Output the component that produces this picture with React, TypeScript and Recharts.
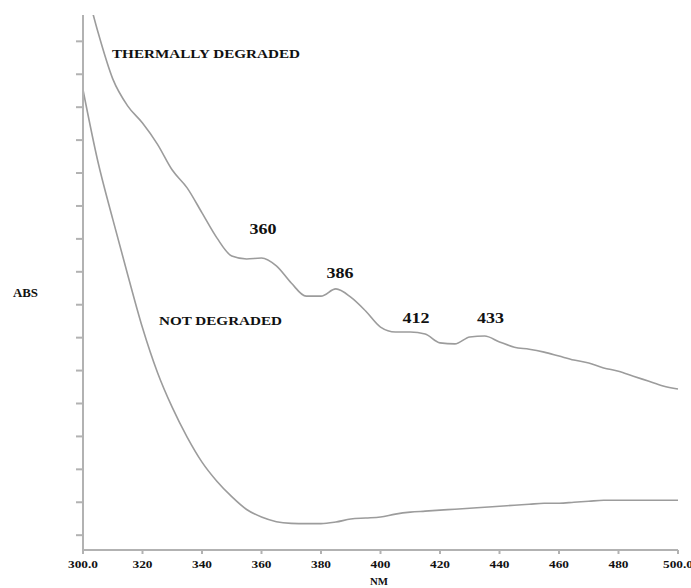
import React from "react";
import { LineChart, Line, XAxis, YAxis, ReferenceDot } from "recharts";

// Wavelength grid (nm)
const wavelengths = [
  300, 305, 310, 315, 320, 325, 330, 335, 340, 345, 350, 355, 360, 365, 370,
  375, 380, 385, 390, 395, 400, 405, 410, 415, 420, 425, 430, 435, 440, 445,
  450, 455, 460, 465, 470, 475, 480, 485, 490, 495, 500,
];

// Absorbance of the thermally degraded sample
const thermallyDegraded = [
  17.02, 15.29, 13.86, 13.04, 12.52, 11.88, 11.09, 10.55, 9.79, 9.03, 8.48,
  8.39, 8.42, 8.18, 7.66, 7.26, 7.26, 7.48, 7.23, 6.81, 6.32, 6.17, 6.17, 6.11,
  5.84, 5.81, 6.02, 6.05, 5.87, 5.71, 5.65, 5.56, 5.44, 5.32, 5.23, 5.08, 4.98,
  4.83, 4.68, 4.53, 4.44,
];

// Absorbance of the untreated sample
const notDegraded = [
  13.53, 11.35, 9.6, 7.92, 6.3, 4.95, 3.88, 2.98, 2.22, 1.64, 1.17, 0.78,
  0.55, 0.41, 0.36, 0.35, 0.35, 0.4, 0.49, 0.52, 0.55, 0.64, 0.7, 0.73, 0.76,
  0.79, 0.82, 0.85, 0.88, 0.91, 0.94, 0.97, 0.97, 1.0, 1.03, 1.06, 1.06, 1.06,
  1.06, 1.06, 1.06,
];

const xTicks = [300, 320, 340, 360, 380, 400, 420, 440, 460, 480, 500];
const yTicks = [0, 1, 2, 3, 4, 5, 6, 7, 8, 9, 10, 11, 12, 13, 14, 15];

// Band maxima marked on the degraded spectrum, with label placement (nm, abs)
const peakLabels = ["360", "386", "412", "433"];
const peakLabelNm = [360.5, 386.4, 411.9, 437];
const peakLabelAbs = [9.3, 7.96, 6.6, 6.6];

const data = wavelengths.map((nm, i) => ({
  nm,
  thermal: thermallyDegraded[i],
  fresh: notDegraded[i],
}));

const AXIS = "#b2b2b2";
const LINE = "#9c9c9c";
const FONT = "'Liberation Serif', 'DejaVu Serif', serif";

const XTick = (props: any) => {
  const { x, y, payload } = props;
  const v: number = payload.value;
  const txt = v === 300 || v === 500 ? v.toFixed(1) : String(v);
  const w = txt.length === 5 ? 30 : 20;
  return (
    <text
      x={x}
      y={y + 12}
      textAnchor="middle"
      fontFamily={FONT}
      fontWeight="bold"
      fontSize={11}
      fill="#111"
      textLength={w}
      lengthAdjust="spacingAndGlyphs"
    >
      {txt}
    </text>
  );
};

const PeakLabel = (props: any) => {
  const { viewBox, value } = props;
  const cx = viewBox.cx ?? viewBox.x;
  const cy = viewBox.cy ?? viewBox.y;
  return (
    <text
      x={cx}
      y={cy + 5}
      textAnchor="middle"
      fontFamily={FONT}
      fontWeight="bold"
      fontSize={15}
      fill="#111"
      textLength={27}
      lengthAdjust="spacingAndGlyphs"
    >
      {value}
    </text>
  );
};

export default function App() {
  return (
    <div style={{ position: "absolute", left: 0, top: 0, width: 691, height: 588, background: "#fff" }}>
      <LineChart
        width={691}
        height={588}
        data={data}
        margin={{ top: 15, right: 13, bottom: 0, left: 63 }}
      >
        <XAxis
          dataKey="nm"
          type="number"
          domain={[300, 500]}
          ticks={xTicks}
          interval={0}
          height={38}
          stroke={AXIS}
          strokeWidth={2}
          tickSize={4}
          tickLine={{ stroke: AXIS, strokeWidth: 2 }}
          tick={<XTick />}
        />
        <YAxis
          type="number"
          domain={[-0.45, 15.8]}
          allowDataOverflow
          ticks={yTicks}
          interval={0}
          width={20}
          stroke={AXIS}
          strokeWidth={2}
          tickSize={7}
          tickLine={{ stroke: AXIS, strokeWidth: 2 }}
          tickFormatter={() => ""}
        />
        <Line
          type="monotone"
          dataKey="thermal"
          stroke={LINE}
          strokeWidth={1.6}
          dot={false}
          isAnimationActive={false}
        />
        <Line
          type="monotone"
          dataKey="fresh"
          stroke={LINE}
          strokeWidth={1.6}
          dot={false}
          isAnimationActive={false}
        />
        {peakLabels.map((t, i) => (
          <ReferenceDot
            key={t}
            x={peakLabelNm[i]}
            y={peakLabelAbs[i]}
            r={0}
            fill="none"
            stroke="none"
            label={<PeakLabel value={t} />}
          />
        ))}
      </LineChart>
      <svg
        width={691}
        height={588}
        style={{ position: "absolute", left: 0, top: 0, pointerEvents: "none" }}
      >
        <g fontFamily={FONT} fontWeight="bold" fill="#111">
          <text x={112} y={58} fontSize={13} textLength={188} lengthAdjust="spacingAndGlyphs">
            THERMALLY DEGRADED
          </text>
          <text x={159} y={325} fontSize={13} textLength={123} lengthAdjust="spacingAndGlyphs">
            NOT DEGRADED
          </text>
          <text x={13} y={297} fontSize={12} textLength={25} lengthAdjust="spacingAndGlyphs">
            ABS
          </text>
          <text x={370} y={585} fontSize={11} textLength={18} lengthAdjust="spacingAndGlyphs">
            NM
          </text>
        </g>
      </svg>
    </div>
  );
}
